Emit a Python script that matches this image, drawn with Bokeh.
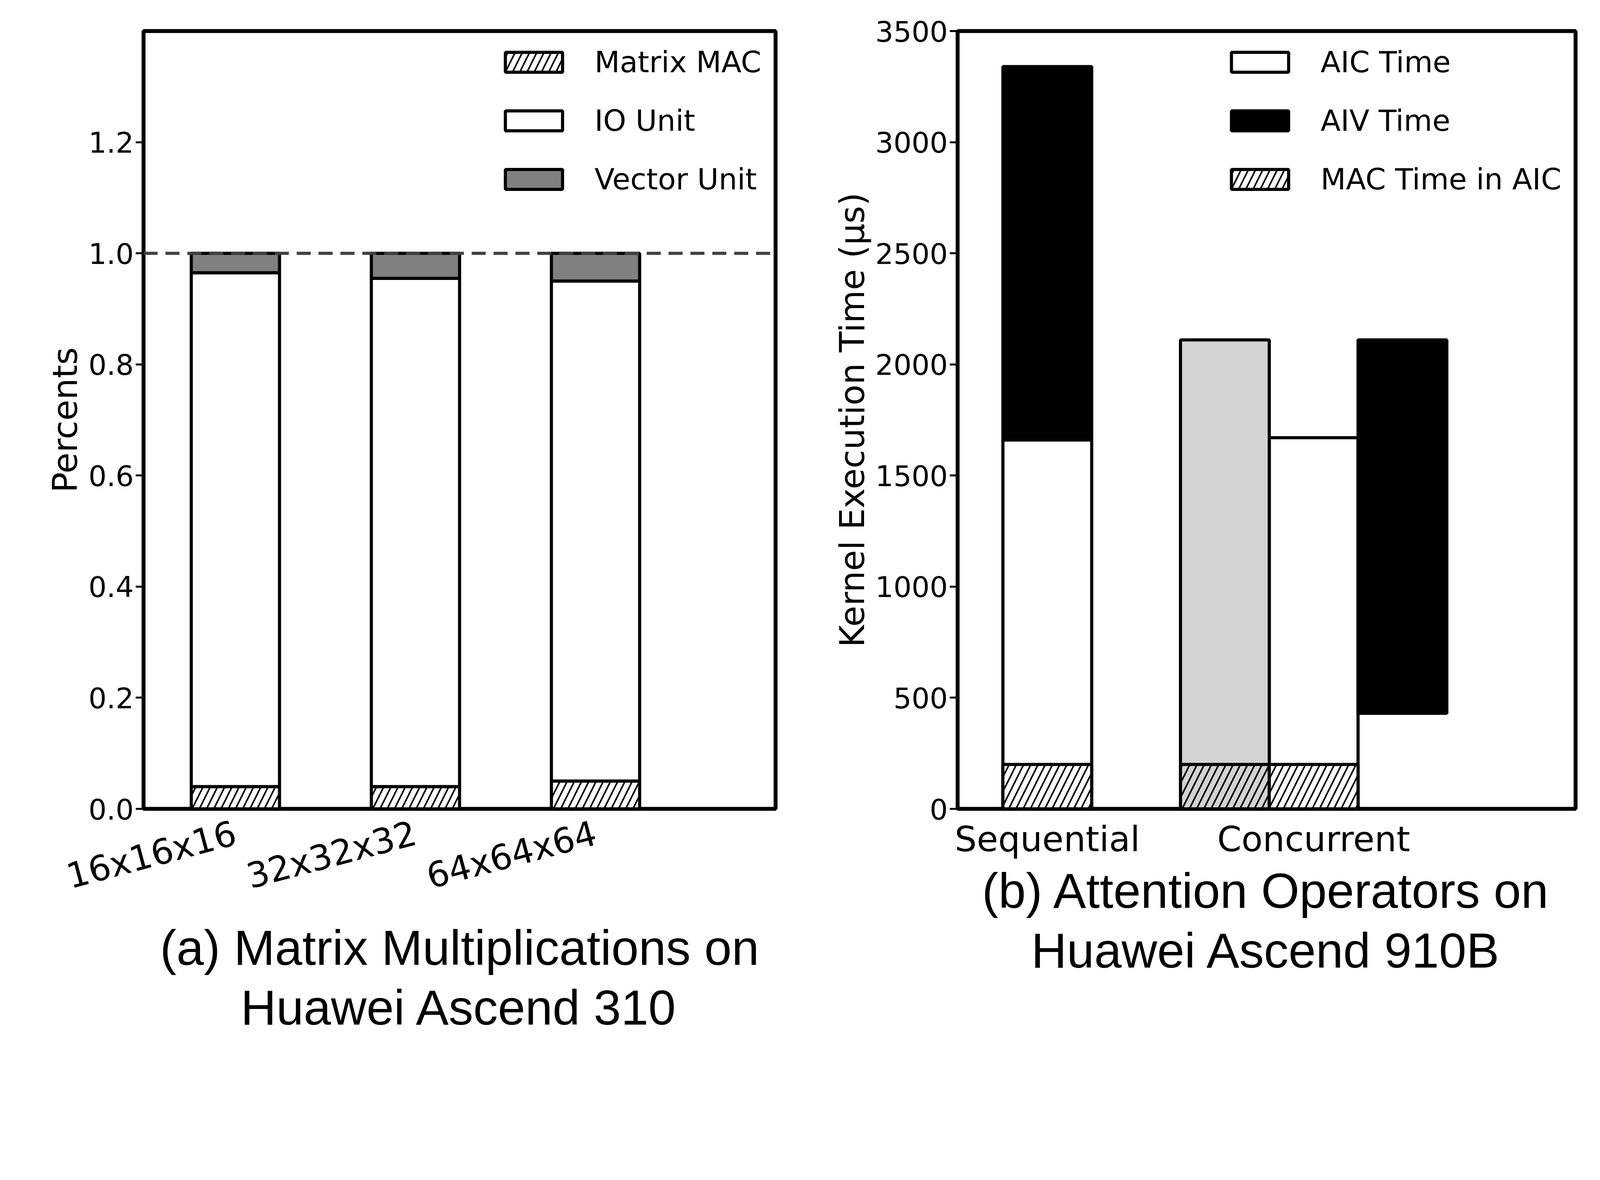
from bokeh.plotting import figure
from bokeh.models import Span, Legend, LegendItem, Title, FixedTicker, Range1d
from bokeh.layouts import row
from bokeh.embed import file_html
from bokeh.resources import INLINE

# (a) matrix multiplications
sizes = ["16x16x16", "32x32x32", "64x64x64"]
mac_share = [0.04, 0.04, 0.05]
io_top = [0.965, 0.955, 0.95]
vec_top = [1.0, 1.0, 1.0]

# (b) attention operators
seq_aic = 1660
seq_aiv = 3340
seq_mac = 200
conc_total = 2110
conc_aic = 1670
conc_mac = 200
conc_aiv_start = 430

FONT = "DejaVu Sans"
CAP = "Liberation Sans"
LW = 8


def style(p):
    p.outline_line_color = "black"
    p.outline_line_width = 10
    p.grid.visible = False
    for ax in p.axis:
        ax.axis_line_width = 0
        ax.major_tick_line_width = 5
        ax.major_tick_out = 20
        ax.major_tick_in = 0
        ax.minor_tick_line_color = None
        ax.major_label_text_font = FONT
        ax.major_label_text_font_size = "73px"
        ax.major_label_text_color = "black"
        ax.axis_label_text_font = FONT
        ax.axis_label_text_font_size = "87px"
        ax.axis_label_text_font_style = "normal"
        ax.axis_label_text_color = "black"


def caption(p, lines):
    for t in lines:
        p.add_layout(Title(text=t, align="center", text_font=CAP, text_color="black",
                           text_font_size="126px", text_font_style="normal"), "below")


def legend(items):
    return Legend(items=items, location="top_right", border_line_color=None,
                  background_fill_alpha=0, label_text_font=FONT, label_text_font_size="75px",
                  label_text_color="black", glyph_width=183, glyph_height=64, spacing=62,
                  label_standoff=64, margin=36, padding=28)


xs = list(range(len(sizes)))
p1 = figure(width=2035, height=2750, x_range=Range1d(-0.51, 3.0), y_range=Range1d(0, 1.4),
            output_backend="svg", toolbar_location=None,
            min_border_left=367, min_border_right=50, min_border_top=79, min_border_bottom=679)
style(p1)
r_mac = p1.vbar(x=xs, width=0.49, bottom=0, top=mac_share, fill_color="white",
                line_color="black", line_width=LW, hatch_pattern="/", hatch_color="black",
                hatch_scale=37, hatch_weight=4)
r_io = p1.vbar(x=xs, width=0.49, bottom=mac_share, top=io_top, fill_color="white",
               line_color="black", line_width=LW)
r_vec = p1.vbar(x=xs, width=0.49, bottom=io_top, top=vec_top, fill_color="#808080",
                line_color="black", line_width=LW)
p1.add_layout(Span(location=1.0, dimension="width", line_color="#404040",
                   line_width=8, line_dash="36 20"))
p1.xaxis.ticker = FixedTicker(ticks=xs)
p1.xaxis.major_label_overrides = {i: s for i, s in enumerate(sizes)}
p1.xaxis.major_label_orientation = 0.26
p1.xaxis.major_label_text_font_size = "89px"
p1.xaxis.major_label_standoff = 40
p1.xaxis.major_tick_line_color = None
yt = [0, 0.2, 0.4, 0.6, 0.8, 1.0, 1.2]
p1.yaxis.ticker = FixedTicker(ticks=yt)
p1.yaxis.major_label_overrides = {v: "%.1f" % v for v in yt}
p1.yaxis.axis_label = "Percents"
p1.add_layout(legend([LegendItem(label="Matrix MAC", renderers=[r_mac]),
                      LegendItem(label="IO Unit", renderers=[r_io]),
                      LegendItem(label="Vector Unit", renderers=[r_vec])]))
caption(p1, ["(a) Matrix Multiplications on", "Huawei Ascend 310"])

p2 = figure(width=2035, height=2750, x_range=Range1d(-1.01, 5.95), y_range=Range1d(0, 3500),
            output_backend="svg", toolbar_location=None,
            min_border_left=416, min_border_right=37, min_border_top=79, min_border_bottom=679)
style(p2)
hatch = dict(hatch_pattern="/", hatch_color="black", hatch_scale=37, hatch_weight=4)
r_aic = p2.vbar(x=[0, 3], width=1, bottom=0, top=[seq_aic, conc_aic], fill_color="white",
                line_color="black", line_width=LW)
r_aiv = p2.vbar(x=[0, 4], width=1, bottom=[seq_aic, conc_aiv_start], top=[seq_aiv, conc_total],
                fill_color="black", line_color="black", line_width=LW)
p2.vbar(x=[2], width=1, bottom=0, top=[conc_total], fill_color="#d3d3d3",
        line_color="black", line_width=LW)
p2.vbar(x=[2], width=1, bottom=0, top=[conc_mac], fill_color="#d3d3d3",
        line_color="black", line_width=LW, **hatch)
r_m = p2.vbar(x=[0, 3], width=1, bottom=0, top=[seq_mac, conc_mac], fill_color="white",
              line_color="black", line_width=LW, **hatch)
p2.xaxis.ticker = FixedTicker(ticks=[0, 3])
p2.xaxis.major_label_overrides = {0: "Sequential", 3: "Concurrent"}
p2.xaxis.major_label_text_font_size = "89px"
p2.xaxis.major_tick_line_color = None
p2.yaxis.ticker = FixedTicker(ticks=list(range(0, 3501, 500)))
p2.yaxis.axis_label = "Kernel Execution Time (μs)"
p2.add_layout(legend([LegendItem(label="AIC Time", renderers=[r_aic]),
                      LegendItem(label="AIV Time", renderers=[r_aiv]),
                      LegendItem(label="MAC Time in AIC", renderers=[r_m])]))
caption(p2, ["(b) Attention Operators on", "Huawei Ascend 910B"])

layout = row(p1, p2)
open("out.html", "w").write(file_html(layout, INLINE))
